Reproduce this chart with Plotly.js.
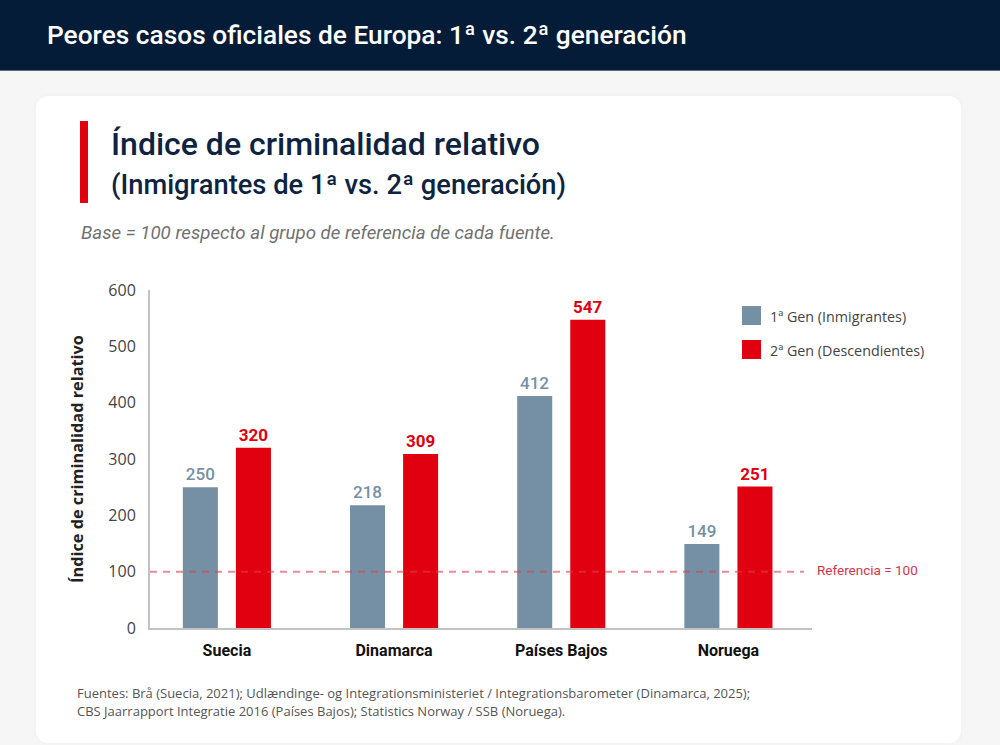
<!DOCTYPE html>
<html><head><meta charset="utf-8">
<script src="https://cdn.plot.ly/plotly-3.0.1.min.js"></script>
<style>
html,body{margin:0;padding:0;width:1000px;height:745px;overflow:hidden;background:#f6f6f7}
#hdr{position:absolute;left:0;top:0;width:1000px;height:71px;background:#051c38;border-bottom:1px solid #5a6b80;box-sizing:border-box}
#card{position:absolute;left:36px;top:96px;width:925px;height:647px;background:#fff;border-radius:12px;box-shadow:0 0 6px rgba(0,0,0,.03)}
#bar{position:absolute;left:80px;top:121px;width:8px;height:82px;background:#e0000f}
#chart{position:absolute;left:0;top:0;width:1000px;height:745px}
</style></head><body>
<div id="hdr"></div><div id="card"></div><div id="bar"></div><div id="chart"></div>
<script>
const categories = ['Suecia','Dinamarca','Países Bajos','Noruega'];
const firstGen = [250,218,412,149];
const secondGen = [320,309,547,251];
const firstName = '1ª Gen (Inmigrantes)';
const secondName = '2ª Gen (Descendientes)';
const referenceValue = 100;
const yTicks = [0,100,200,300,400,500,600];

const W=1000,H=745,L=150,R=812,T=290,B=628;
const BLUE='#7590a4',RED='#e0000f';
const px=x=>(x-L)/(R-L), py=y=>(B-y)/(B-T);
const note=(text,x,y,size,color,family,weight)=>({text,x:px(x),y:py(y),xref:'paper',yref:'paper',xanchor:'left',yanchor:'middle',showarrow:false,align:'left',font:{size,color,family,weight:weight||400}});
const sw=(x0,y0,x1,y1,c)=>({type:'rect',xref:'paper',yref:'paper',x0:px(x0),x1:px(x1),y0:py(y0),y1:py(y1),fillcolor:c,line:{width:0}});
const trace=(name,y,c,w)=>({type:'bar',name,x:categories,y,marker:{color:c},text:y.map(String),textposition:'outside',cliponaxis:false,textangle:0,
  textfont:{family:'Roboto',size:17,color:c,weight:w},hoverinfo:'x+y'});

Plotly.newPlot('chart',[trace(firstName,firstGen,BLUE,500),trace(secondName,secondGen,RED,700)],{
  width:W,height:H,paper_bgcolor:'rgba(0,0,0,0)',plot_bgcolor:'rgba(0,0,0,0)',showlegend:false,
  margin:{l:L,r:W-R,t:T,b:H-B,pad:0},
  barmode:'group',bargap:0.365,bargroupgap:0.34,
  title:{text:'Peores casos oficiales de Europa: 1ª vs. 2ª generación',xref:'container',yref:'container',x:0.047,xanchor:'left',y:0.953,yanchor:'middle',font:{family:'Roboto',size:26.3,color:'#fff',weight:500}},
  xaxis:{range:[-0.46,3.5],showgrid:false,zeroline:false,showline:true,linecolor:'#c2c2c2',linewidth:2,ticks:'',ticklen:0,tickfont:{family:'Roboto',size:16,color:'#111',weight:700},ticklabelstandoff:7},
  yaxis:{range:[0,600],tickvals:yTicks,showgrid:false,zeroline:false,showline:true,linecolor:'#c2c2c2',linewidth:2,ticks:'',tickfont:{family:'Open Sans',size:16,color:'#444'},ticklabelstandoff:9,
    title:{text:'Índice de criminalidad relativo',standoff:21,font:{family:'Open Sans',size:16.3,color:'#222',weight:700}}},
  shapes:[
    {type:'line',xref:'paper',yref:'y',x0:0,x1:px(804),y0:referenceValue,y1:referenceValue,line:{color:'rgba(224,60,75,.6)',width:2,dash:'7px 6px'},layer:'above'},
    sw(742,306,761,325,BLUE),sw(742,340,761,359,RED)
  ],
  annotations:[
    note('Índice de criminalidad relativo',109,144,32,'#0d2340','Roboto',500),
    note('(Inmigrantes de 1ª vs. 2ª generación)',109,185,27.3,'#0d2340','Roboto',500),
    note('<i>Base = 100 respecto al grupo de referencia de cada fuente.</i>',79,233,18.7,'#717171','Roboto'),
    note(firstName,768,316,14.3,'#444','Open Sans'),
    note(secondName,768,350,14.3,'#444','Open Sans'),
    note('Referencia = 100',815,570,13.5,'#d9344a','Roboto'),
    note('Fuentes: Brå (Suecia, 2021); Udlændinge- og Integrationsministeriet / Integrationsbarometer (Dinamarca, 2025);',75,693,13,'#555','Open Sans'),
    note('CBS Jaarrapport Integratie 2016 (Países Bajos); Statistics Norway / SSB (Noruega).',75,711,13,'#555','Open Sans')
  ]
},{displayModeBar:false,staticPlot:true});
</script></body></html>
